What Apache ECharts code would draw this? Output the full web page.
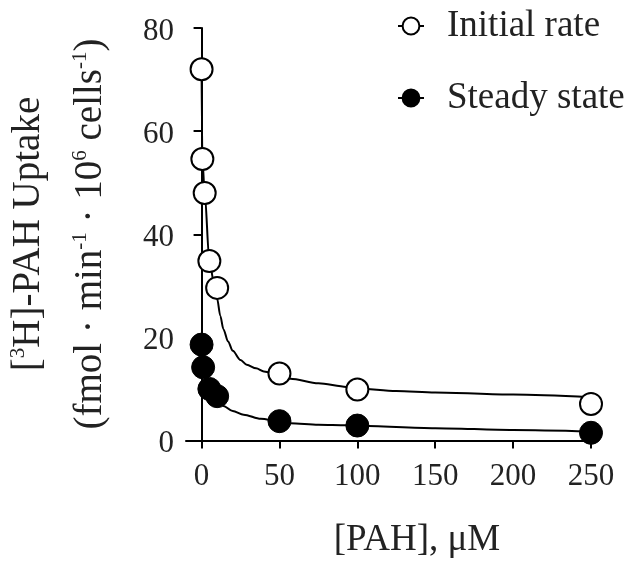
<!DOCTYPE html>
<html>
<head>
<meta charset="utf-8">
<script src="https://cdn.jsdelivr.net/npm/echarts@6/dist/echarts.min.js"></script>
<style>
  html, body { margin: 0; padding: 0; background: #fff; }
  #chart { width: 626px; height: 567px; }
</style>
</head>
<body>
<div id="chart"></div>
<script>
// ---- data ----
const seriesNames = ['Initial rate', 'Steady state'];

const xInitial = [0, 0.5, 2, 5, 10, 50, 100, 250];
const yInitial = [72, 54.6, 48, 34.8, 29.6, 13, 9.9, 7.1];

const xSteady = [0, 1, 5, 10, 50, 100, 250];
const ySteady = [18.6, 14.2, 10, 8.6, 3.75, 2.9, 1.5];

// fitted curves
const xFitInitial = [0, 0.5, 2, 5, 8, 10, 12, 14, 17, 20, 25, 29, 35, 40, 50, 57, 75, 93, 100, 125, 150, 200, 250];
const yFitInitial = [72, 54.6, 48, 34.8, 30.5, 27.5, 24.2, 21.6, 19.2, 17.4, 15.6, 14.7, 14, 13.4, 12.7, 12.0, 11.1, 10.4, 10.1, 9.6, 9.3, 8.9, 8.4];

const xFitSteady = [0, 1, 5, 10, 14, 20, 27, 38, 50, 57, 75, 93, 100, 150, 200, 250];
const yFitSteady = [18.6, 14.2, 10, 8.3, 6.7, 5.7, 5.0, 4.2, 3.7, 3.35, 3.05, 2.95, 2.85, 2.4, 2.05, 1.75];

const xTicks = [0, 50, 100, 150, 200, 250];
const yTicks = [0, 20, 40, 60, 80];

const xAxisTitle = '[PAH], μM';
const yTitleLine1 = '[{sup|3}H]-PAH Uptake';
const yTitleLine2 = '(fmol · min{sup|-1} · 10{sup|6} cells{sup|-1})';

// ---- build ----
const zip = (xs, ys) => xs.map((x, i) => [x, ys[i]]);
const FONT = "'Liberation Serif', 'Times New Roman', serif";
const TXT = '#222';

const chart = echarts.init(document.getElementById('chart'), null, { renderer: 'canvas' });

const supRich = {
  sup: { fontSize: 21, lineHeight: 21, verticalAlign: 'top', fontFamily: FONT, fill: TXT, color: TXT }
};

chart.setOption({
  animation: false,
  backgroundColor: '#fff',
  grid: { left: 186, right: 35, top: 28, bottom: 126.5, containLabel: false },
  xAxis: {
    type: 'value',
    min: -10,
    max: 250,
    name: xAxisTitle,
    nameLocation: 'middle',
    nameGap: 81.5,
    nameTextStyle: { fontFamily: FONT, fontSize: 37, lineHeight: 37, color: TXT, padding: [0, 0, 0, 57] },
    axisLine: { show: true, onZero: false, lineStyle: { color: '#000', width: 2 } },
    axisTick: { show: true, inside: false, length: 8, customValues: xTicks, lineStyle: { color: '#000', width: 2 } },
    axisLabel: { customValues: xTicks, margin: 21, fontFamily: FONT, fontSize: 31, color: TXT },
    splitLine: { show: false }
  },
  yAxis: {
    type: 'value',
    min: 0,
    max: 80,
    interval: 20,
    axisLine: { show: true, lineStyle: { color: '#000', width: 2 } },
    axisTick: { show: true, inside: false, length: 8, lineStyle: { color: '#000', width: 2 } },
    axisLabel: { margin: 12, fontFamily: FONT, fontSize: 31, color: TXT, verticalAlign: 'top', lineHeight: 7 },
    splitLine: { show: false }
  },
  legend: {
    data: seriesNames,
    orient: 'vertical',
    left: 392,
    top: 1,
    itemWidth: 26,
    itemHeight: 21,
    itemGap: 32,
    textStyle: { fontFamily: FONT, fontSize: 37, lineHeight: 40, color: TXT, padding: [0, 0, 0, 18] },
    lineStyle: { width: 2, color: '#000' },
    selectedMode: false
  },
  graphic: [
    {
      type: 'text',
      x: 28.8, y: 234,
      rotation: Math.PI / 2,
      style: {
        text: yTitleLine1,
        fontFamily: FONT, fontSize: 39, lineHeight: 42,
        fill: TXT,
        align: 'center', verticalAlign: 'middle',
        textAlign: 'center', textVerticalAlign: 'middle',
        rich: supRich
      }
    },
    {
      type: 'text',
      x: 90.8, y: 234,
      rotation: Math.PI / 2,
      style: {
        text: yTitleLine2,
        fontFamily: FONT, fontSize: 39, lineHeight: 42,
        fill: TXT,
        align: 'center', verticalAlign: 'middle',
        textAlign: 'center', textVerticalAlign: 'middle',
        rich: supRich
      }
    }
  ],
  series: [
    {
      name: 'Initial rate fit',
      type: 'line',
      data: zip(xFitInitial, yFitInitial),
      showSymbol: false,
      symbol: 'none',
      smooth: 0.3,
      smoothMonotone: 'x',
      lineStyle: { color: '#000', width: 2 },
      z: 2,
      silent: true
    },
    {
      name: 'Steady state fit',
      type: 'line',
      data: zip(xFitSteady, yFitSteady),
      showSymbol: false,
      symbol: 'none',
      smooth: 0.3,
      smoothMonotone: 'x',
      lineStyle: { color: '#000', width: 2 },
      z: 2,
      silent: true
    },
    {
      name: seriesNames[1],
      type: 'line',
      data: zip(xSteady, ySteady),
      symbol: 'circle',
      symbolSize: 23,
      showAllSymbol: true,
      lineStyle: { width: 0, color: '#000' },
      itemStyle: { color: '#000', borderColor: '#000', borderWidth: 1 },
      z: 3
    },
    {
      name: seriesNames[0],
      type: 'line',
      data: zip(xInitial, yInitial),
      symbol: 'circle',
      symbolSize: 22,
      showAllSymbol: true,
      lineStyle: { width: 0, color: '#000' },
      itemStyle: { color: '#fff', borderColor: '#000', borderWidth: 2 },
      z: 4
    }
  ]
});
</script>
</body>
</html>
